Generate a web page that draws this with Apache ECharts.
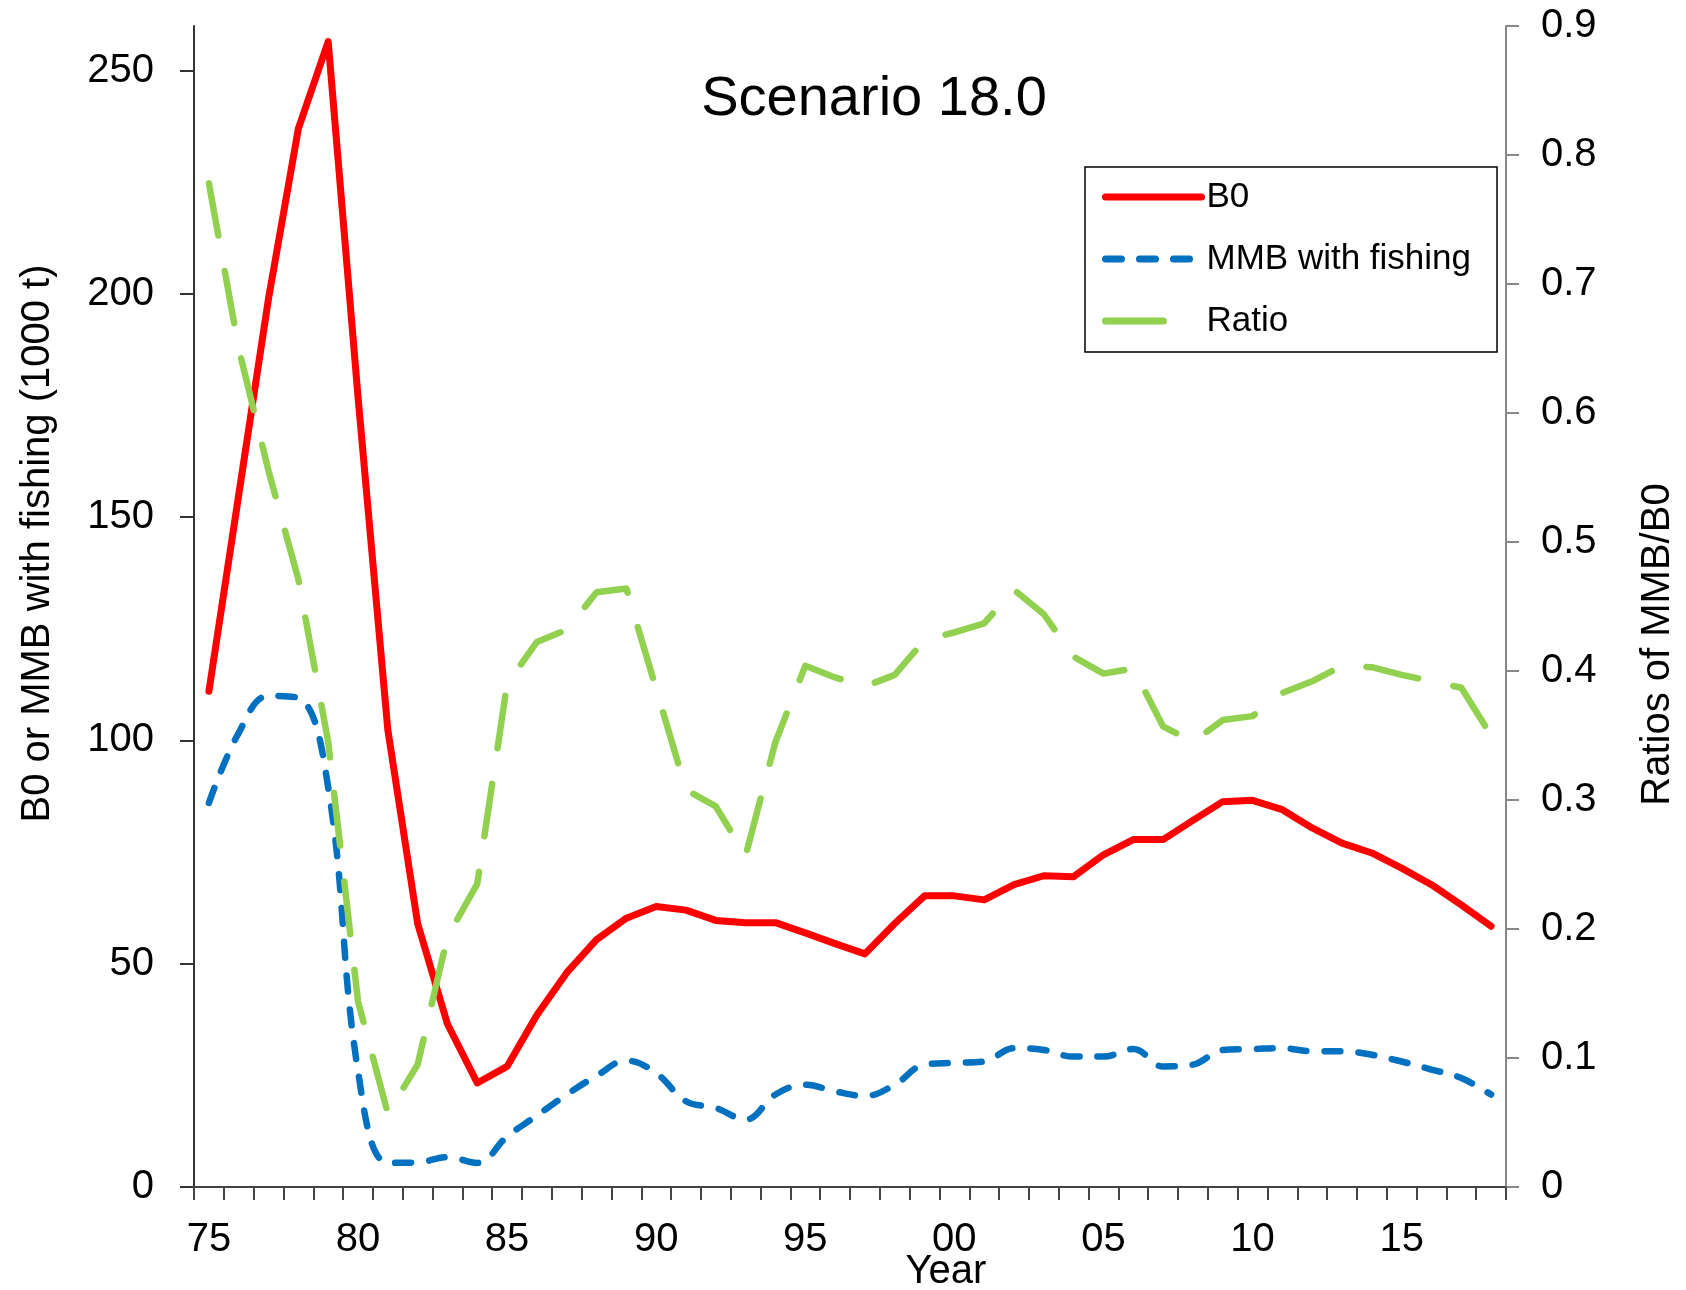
<!DOCTYPE html>
<html>
<head>
<meta charset="utf-8">
<title>Scenario 18.0</title>
<script src="https://cdn.jsdelivr.net/npm/echarts@6/dist/echarts.min.js"></script>
<style>
  html, body { margin: 0; padding: 0; background: #fff; }
  #chart { width: 1686px; height: 1290px; }
</style>
</head>
<body>
<div id="chart"></div>
<script>
const years = [
  "1975", "1976", "1977", "1978", "1979", "1980", "1981", "1982", "1983", "1984",
  "1985", "1986", "1987", "1988", "1989", "1990", "1991", "1992", "1993", "1994",
  "1995", "1996", "1997", "1998", "1999", "2000", "2001", "2002", "2003", "2004",
  "2005", "2006", "2007", "2008", "2009", "2010", "2011", "2012", "2013", "2014",
  "2015", "2016", "2017", "2018"
];

// B0 (1000 t)
const b0 = [
  111, 155, 199, 237, 256.5, 177, 102.4, 59, 36.5, 23.3,
  27, 38.5, 48, 55.4, 60.2, 62.8, 62, 59.7, 59.2, 59.2,
  56.9, 54.5, 52.2, 59, 65.2, 65.2, 64.3, 67.7, 69.7, 69.5,
  74.4, 77.8, 77.8, 82.1, 86.3, 86.6, 84.5, 80.4, 77, 74.8,
  71.4, 67.7, 63.2, 58.4
];

// MMB with fishing (1000 t)
const mmb = [
  86, 101.7, 110, 109.5, 89.5, 26, 5.4, 5.5, 6.7, 5.4,
  11.3, 16, 20.7, 24.9, 28.3, 25.5, 19.2, 17.7, 15.1, 20.7,
  22.9, 21.4, 20.4, 22.9, 27.4, 27.8, 28.1, 31.1, 30.7, 29.2,
  29.2, 30.9, 27, 27.4, 30.7, 30.9, 31.1, 30.4, 30.4, 29.6,
  28.1, 26.3, 24.4, 20.7
];

// MMB/B0
const ratio = [
  0.778, 0.65, 0.555, 0.471, 0.345, 0.144, 0.057, 0.095, 0.194, 0.235,
  0.39, 0.4225, 0.432, 0.461, 0.464, 0.386, 0.308, 0.295, 0.257, 0.345,
  0.404, 0.395, 0.388, 0.397, 0.424, 0.43, 0.437, 0.463, 0.444, 0.411,
  0.398, 0.402, 0.357, 0.345, 0.362, 0.365, 0.383, 0.392, 0.404, 0.403,
  0.397, 0.392, 0.387, 0.35
];

const leftTicks = [0, 50, 100, 150, 200, 250];
const rightTicks = [0, 0.1, 0.2, 0.3, 0.4, 0.5, 0.6, 0.7, 0.8, 0.9];

const FONT = '"Liberation Sans", Arial, sans-serif';

const chart = echarts.init(document.getElementById("chart"));

const option = {
  animation: false,
  backgroundColor: "#fff",
  textStyle: { fontFamily: FONT },
  grid: { left: 194, right: 175, top: 26, bottom: 103 },
  legend: {
    orient: "vertical",
    left: 1085,
    top: 167,
    padding: [10, 26, 11, 17],
    itemWidth: 96,
    itemHeight: 14,
    itemGap: 22,
    borderColor: "#000",
    borderWidth: 1.5,
    backgroundColor: "#fff",
    itemStyle: { opacity: 0 },
    lineStyle: { width: 7, cap: "round" },
    textStyle: { fontFamily: FONT, fontSize: 35, lineHeight: 40, color: "#000" },
    data: [
      { name: "B0" },
      { name: "MMB with fishing" },
      { name: "Ratio", lineStyle: { type: [58, 100], width: 7, cap: "round" } }
    ]
  },
  graphic: [
    {
      type: "text",
      x: 874,
      y: 100,
      style: {
        text: "Scenario 18.0",
        font: '56px "Liberation Sans", Arial, sans-serif',
        fill: "#000",
        align: "center",
        verticalAlign: "middle"
      }
    },
    {
      type: "text",
      x: 946,
      y: 1272,
      style: {
        text: "Year",
        font: '40px "Liberation Sans", Arial, sans-serif',
        fill: "#000",
        align: "center",
        verticalAlign: "middle"
      }
    }
  ],
  xAxis: {
    type: "category",
    data: years,
    boundaryGap: true,
    axisLine: { show: true, lineStyle: { color: "#444", width: 2 } },
    axisTick: { show: true, interval: 0, length: 13, lineStyle: { color: "#444", width: 2 } },
    axisLabel: {
      interval: 4,
      margin: 33,
      fontSize: 40,
      color: "#000",
      fontFamily: FONT,
      formatter: (v) => v.slice(2)
    },
    splitLine: { show: false }
  },
  yAxis: [
    {
      type: "value",
      position: "left",
      min: 0,
      max: 260,
      interval: 50,
      name: "B0 or MMB with fishing (1000 t)",
      nameLocation: "middle",
      nameGap: 136,
      nameRotate: 90,
      nameTextStyle: { fontSize: 40, color: "#000", fontFamily: FONT, padding: [0, 0, 0, 126] },
      axisLine: { show: true, lineStyle: { color: "#333", width: 2 } },
      axisTick: { show: true, length: 14, customValues: leftTicks, lineStyle: { color: "#333", width: 2 } },
      axisLabel: { margin: 40, fontSize: 40, color: "#000", fontFamily: FONT, customValues: leftTicks },
      splitLine: { show: false }
    },
    {
      type: "value",
      position: "right",
      min: 0,
      max: 0.9,
      interval: 0.1,
      name: "Ratios of MMB/B0",
      nameLocation: "middle",
      nameGap: 132,
      nameRotate: 90,
      nameTextStyle: { fontSize: 40, color: "#000", fontFamily: FONT, padding: [0, 76, 0, 0] },
      axisLine: { show: true, lineStyle: { color: "#888", width: 2 } },
      axisTick: { show: true, length: 13, lineStyle: { color: "#888", width: 2 } },
      axisLabel: {
        margin: 35,
        fontSize: 40,
        color: "#000",
        fontFamily: FONT,
        customValues: rightTicks,
        formatter: (v) => (Math.round(v * 10) / 10).toString()
      },
      splitLine: { show: false }
    }
  ],
  series: [
    {
      name: "B0",
      type: "line",
      yAxisIndex: 0,
      data: b0,
      symbol: "none",
      color: "#FF0000",
      lineStyle: { color: "#FF0000", width: 7, join: "round", cap: "round" }
    },
    {
      name: "MMB with fishing",
      type: "line",
      yAxisIndex: 0,
      data: mmb,
      symbol: "none",
      smooth: 0.4,
      color: "#0070C0",
      lineStyle: { color: "#0070C0", width: 6.5, type: [16, 18], cap: "round", join: "round" }
    },
    {
      name: "Ratio",
      type: "line",
      yAxisIndex: 1,
      data: ratio,
      symbol: "none",
      color: "#92D050",
      lineStyle: { color: "#92D050", width: 6.5, type: [53, 36], cap: "round", join: "round" }
    }
  ]
};

chart.setOption(option);
</script>
</body>
</html>
